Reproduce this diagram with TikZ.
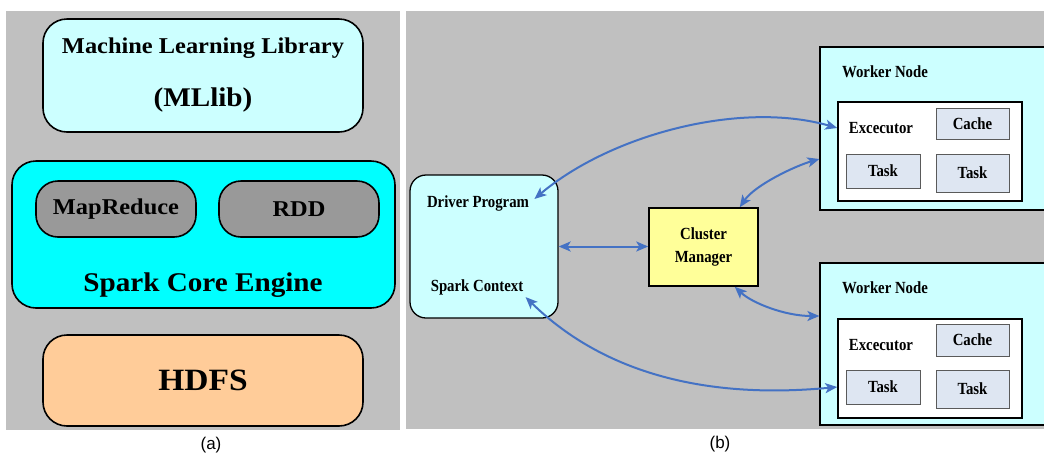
\documentclass[tikz,border=0pt]{standalone}
\usepackage{fontspec}
\setmainfont{Liberation Serif}
\newfontfamily\capfont{Liberation Sans}
\newfontfamily\widefont[FakeStretch=1.08]{Liberation Serif}
\newfontfamily\narrowfont[FakeStretch=0.87]{Liberation Serif}
\usetikzlibrary{arrows.meta}

\definecolor{panelgray}{RGB}{192,192,192}
\definecolor{palecyan}{RGB}{204,255,255}
\definecolor{corecyan}{RGB}{0,255,255}
\definecolor{pillgray}{RGB}{153,153,153}
\definecolor{hdfspeach}{RGB}{255,204,153}
\definecolor{cmyellow}{RGB}{255,255,153}
\definecolor{taskfill}{RGB}{222,230,242}
\definecolor{taskedge}{RGB}{90,90,90}
\definecolor{linkblue}{RGB}{68,114,196}

\tikzset{every picture/.style={line width=0.75pt}}
\tikzset{
  layerbox/.style={draw=black, line width=1.6pt, rounded corners=24pt, inner sep=0pt},
  pillbox/.style={draw=black, line width=1.6pt, fill=pillgray, rounded corners=22pt, minimum width=160pt, minimum height=56pt, inner sep=0pt, font=\widefont\bfseries\fontsize{22.6}{27}\selectfont},
  workerbox/.style={draw=black, line width=1.2pt, fill=palecyan, minimum width=240pt, minimum height=163pt, inner sep=0pt},
  execbox/.style={draw=black, line width=1.5pt, fill=white, minimum width=184pt, minimum height=99pt, inner sep=0pt},
  slotbox/.style={draw=taskedge, line width=1pt, fill=taskfill, minimum width=73pt, inner sep=0pt, font=\narrowfont\bfseries\fontsize{17}{20}\selectfont},
  btext/.style={inner sep=2pt, font=\narrowfont\bfseries\fontsize{17}{20}\selectfont},
  captext/.style={inner sep=0.75pt, font=\capfont\fontsize{17}{20}\selectfont},
  linkarrow/.style={draw=linkblue, line width=2pt, arrows={Stealth[length=12pt,width=10pt,inset=3pt]-Stealth[length=12pt,width=10pt,inset=3pt]}}
}

\begin{document}
\begin{tikzpicture}[x=1pt,y=1pt,yscale=-1,xscale=1]
\clip (0,0) rectangle (1044,456);
\fill[white] (0,0) rectangle (1044,456);

%Shape: Rectangle [panel backgrounds]
\fill[panelgray] (6,11) rectangle (400,430);
\fill[panelgray] (406,11) rectangle (1044,429);

%% ---------- (a) Spark stack ----------
%Shape: Rounded Rect
\node[layerbox, fill=palecyan, minimum width=320pt, minimum height=113pt, align=center, font=\widefont\bfseries\fontsize{27}{53}\selectfont] (mllib) at (203,75.5) {{\fontsize{22.6}{27}\selectfont Machine Learning Library}\\(MLlib)};
%Shape: Rounded Rect
\node[layerbox, fill=corecyan, minimum width=383pt, minimum height=147pt] (core) at (203.5,234.5) {};
\node[pillbox] (mapred) at (116,209) {MapReduce};
\node[pillbox] (rdd) at (299,209) {RDD};
% Text Node
\node[inner sep=0.75pt, font=\widefont\bfseries\fontsize{27}{33}\selectfont] (coretxt) at (203,285) {Spark Core Engine};
%Shape: Rounded Rect
\node[layerbox, fill=hdfspeach, minimum width=320pt, minimum height=91pt, font=\widefont\bfseries\fontsize{31}{36}\selectfont] (hdfs) at (203,380.5) {HDFS};

%% ---------- (b) cluster ----------
%Shape: Rounded Rect
\node[draw=black, line width=1.3pt, fill=palecyan, rounded corners=16pt, minimum width=148pt, minimum height=143pt] (drv) at (484,246.5) {};
% Text Node
\node[btext] (dprog) at (478,203) {Driver Program};
% Text Node
\node[btext] (sctx) at (477,287) {Spark Context};

%Shape: Rectangle
\node[draw=black, line width=1.5pt, fill=cmyellow, minimum width=109pt, minimum height=78pt, align=center, btext, font=\narrowfont\bfseries\fontsize{17}{23}\selectfont] (cm) at (703.5,247) {Cluster\\Manager};

%Shape: Rectangle [worker 1]
\node[workerbox] (w1) at (940,128.5) {};
\node[btext] (w1txt) at (885,72) {Worker Node};
\node[execbox] (exe1) at (930,151.5) {};
\node[btext] (exe1txt) at (881,128) {Excecutor};
\node[slotbox, minimum height=31pt] (c1) at (972.5,123.5) {Cache};
\node[slotbox, minimum width=74pt, minimum height=34pt] (t1a) at (883,171) {Task};
\node[slotbox, minimum height=38pt] (t1b) at (972.5,173) {Task};

%Shape: Rectangle [worker 2]
\node[workerbox, minimum height=162pt] (w2) at (940,344) {};
\node[btext] (w2txt) at (885,288) {Worker Node};
\node[execbox] (exe2) at (930,368.5) {};
\node[btext] (exe2txt) at (881,345) {Excecutor};
\node[slotbox, minimum height=32pt] (c2) at (972.5,340) {Cache};
\node[slotbox, minimum width=74pt, minimum height=34pt] (t2a) at (883,387) {Task};
\node[slotbox, minimum height=38pt] (t2b) at (972.5,389) {Task};

% Connectors
\draw[linkarrow] ([xshift=3pt,yshift=-4pt]dprog.east) .. controls (610,135) and (740,100) .. (exe1.west |- exe1txt);
\draw[linkarrow] ([xshift=-19pt]cm.north east) .. controls (755,185) and (795,166) .. ([yshift=30.5pt]w1.west);
\draw[linkarrow] (drv.east) -- (cm.west |- drv.east);
\draw[linkarrow] ([xshift=-24pt]cm.south east) .. controls (752,303) and (785,316) .. ([yshift=-28pt]w2.west);
\draw[linkarrow] (sctx.south east) .. controls (600,370) and (700,400) .. (exe2.west |- t2a);

% Text Node
\node[captext] (capa) at (211,445) {(a)};
% Text Node
\node[captext] (capb) at (720,444) {(b)};

\end{tikzpicture}
\end{document}
